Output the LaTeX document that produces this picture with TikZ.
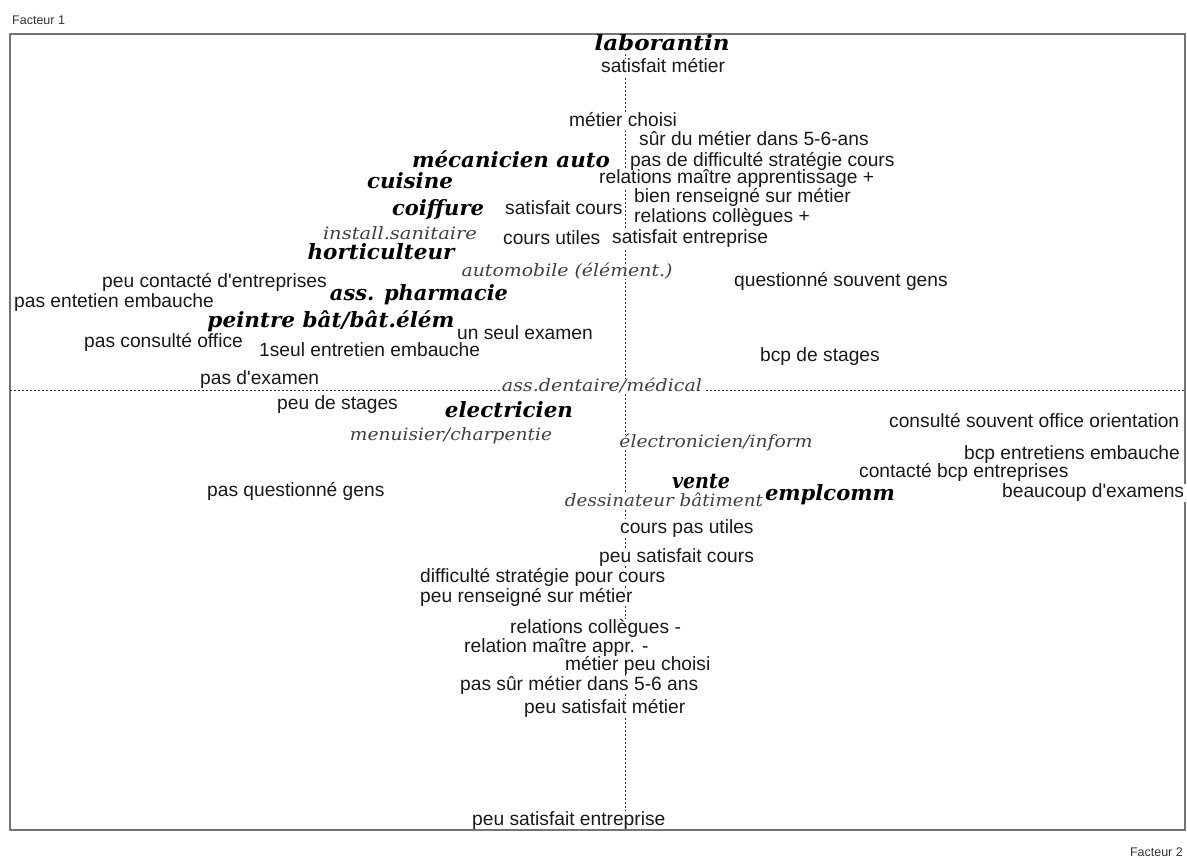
\documentclass[tikz,border=0pt]{standalone}
\usepackage{fontspec}
\setmainfont{Liberation Sans}
\newfontfamily\scrfont{DejaVu Serif}
\usepackage{graphicx}
\newcommand\fitw[2]{\resizebox{#1pt}{\height}{#2}}
\begin{document}
\begin{tikzpicture}[x=1pt,y=-1pt,
  lbl/.style={anchor=west, fill=white, inner xsep=2, inner ysep=0, text height=14, text depth=4,
              font=\fontsize{19.2}{20}\selectfont, text=black!90},
  sb/.style={inner xsep=3, inner ysep=0, text height=15, text depth=4,
             font=\scrfont\bfseries\itshape\fontsize{21}{23}\selectfont, text=black},
  sl/.style={fill=white, inner xsep=2, inner ysep=0, text height=12, text depth=3,
             font=\scrfont\itshape\fontsize{17}{19}\selectfont, text=black!75},
  fac/.style={inner sep=0, font=\fontsize{12.5}{14}\selectfont, text=black!80},
  framestyle/.style={draw=black!55, line width=1.6},
  axisstyle/.style={draw=black!80, line width=0.8, dash pattern=on 2pt off 2pt}]
\useasboundingbox (0,0) rectangle (1187,858);

% frame and axes
\coordinate (tl) at (10,34);
\coordinate (br) at (1185,830);
\coordinate (vt) at (625,34);
\coordinate (vb) at (625,830);
\coordinate (hl) at (10,390);
\coordinate (hr) at (1185,390);
\draw[framestyle] (tl) rectangle (br);
\draw[axisstyle] (vt) -- (vb);
\draw[axisstyle] (hl) -- (hr);

\node[fac, anchor=west] (f1) at (12,20) {Facteur 1};
\node[fac, anchor=east] (f2) at (1183,852) {Facteur 2};

% sans labels
\node[lbl] (a1) at (599,68) {satisfait métier};
\node[lbl] (a2) at (567,122) {métier choisi};
\node[lbl] (a3) at (637,141) {sûr du métier dans 5-6-ans};
\node[lbl] (a4) at (628,162) {pas de difficulté stratégie cours};
\node[lbl] (a5) at (597,179) {relations maître apprentissage +};
\node[lbl] (a6) at (632,198) {bien renseigné sur métier};
\node[lbl] (a7) at (503,210) {satisfait cours};
\node[lbl] (a8) at (632,218) {relations collègues +};
\node[lbl] (a9) at (501,240) {cours utiles};
\node[lbl] (a10) at (610,239) {satisfait entreprise};
\node[lbl] (a11) at (732,282) {questionné souvent gens};
\node[lbl] (a12) at (100,283) {peu contacté d\textquotesingle entreprises};
\node[lbl] (a13) at (12,303) {pas entetien embauche};
\node[lbl] (a14) at (455,335) {un seul examen};
\node[lbl] (a15) at (82,343) {pas consulté office};
\node[lbl] (a16) at (257,352) {1seul entretien embauche};
\node[lbl] (a17) at (758,357) {bcp de stages};
\node[lbl] (a18) at (198,380) {pas d\textquotesingle examen};
\node[lbl] (a19) at (275,405) {peu de stages};
\node[lbl] (a20) at (887,423) {consulté souvent office orientation};
\node[lbl] (a21) at (962,455) {bcp entretiens embauche};
\node[lbl] (a22) at (857,473) {contacté bcp entreprises};
\node[lbl] (a23) at (205,492) {pas questionné gens};
\node[lbl] (a24) at (1000,493) {beaucoup d\textquotesingle examens};
\node[lbl] (a25) at (618,528) {cours pas utiles};
\node[lbl] (a26) at (597,557) {peu satisfait cours};
\node[lbl] (a27) at (418,577) {difficulté stratégie pour cours};
\node[lbl] (a28) at (418,597) {peu renseigné sur métier};
\node[lbl] (a29) at (508,628) {relations collègues -};
\node[lbl] (a30) at (462,647) {relation maître appr. -};
\node[lbl] (a31) at (563,665) {métier peu choisi};
\node[lbl] (a32) at (458,685) {pas sûr métier dans 5-6 ans};
\node[lbl] (a33) at (522,708) {peu satisfait métier};
\node[lbl] (a34) at (470,820) {peu satisfait entreprise};

% script labels (professions)
\node[sb, fill=white] (p1) at (662,45) {\fitw{135}{laborantin}};
\node[sb] (p2) at (511,162) {\fitw{198}{mécanicien auto}};
\node[sb] (p3) at (410,183) {\fitw{86}{cuisine}};
\node[sb] (p4) at (438,210) {\fitw{92}{coiffure}};
\node[sl] (p5) at (400,235) {\fitw{154}{install.sanitaire}};
\node[sb] (p6) at (381,254) {\fitw{147}{horticulteur}};
\node[sl] (p7) at (567,272) {\fitw{211}{automobile (élément.)}};
\node[sb] (p8) at (419,295) {\fitw{178}{ass. pharmacie}};
\node[sb] (p9) at (331,322) {\fitw{247}{peintre bât/bât.élém}};
\node[sl] (p10) at (602,387) {\fitw{200}{ass.dentaire/médical}};
\node[sb] (p11) at (509,412) {\fitw{128}{electricien}};
\node[sl] (p12) at (451,436) {\fitw{202}{menuisier/charpentie}};
\node[sl] (p13) at (716,443) {\fitw{193}{électronicien/inform}};
\node[sb] (p14) at (701,483) {\fitw{58}{vente}};
\node[sl] (p16) at (664,502) {\fitw{198}{dessinateur bâtiment}};
\node[sb] (p15) at (830,495) {\fitw{130}{emplcomm}};
\end{tikzpicture}
\end{document}
